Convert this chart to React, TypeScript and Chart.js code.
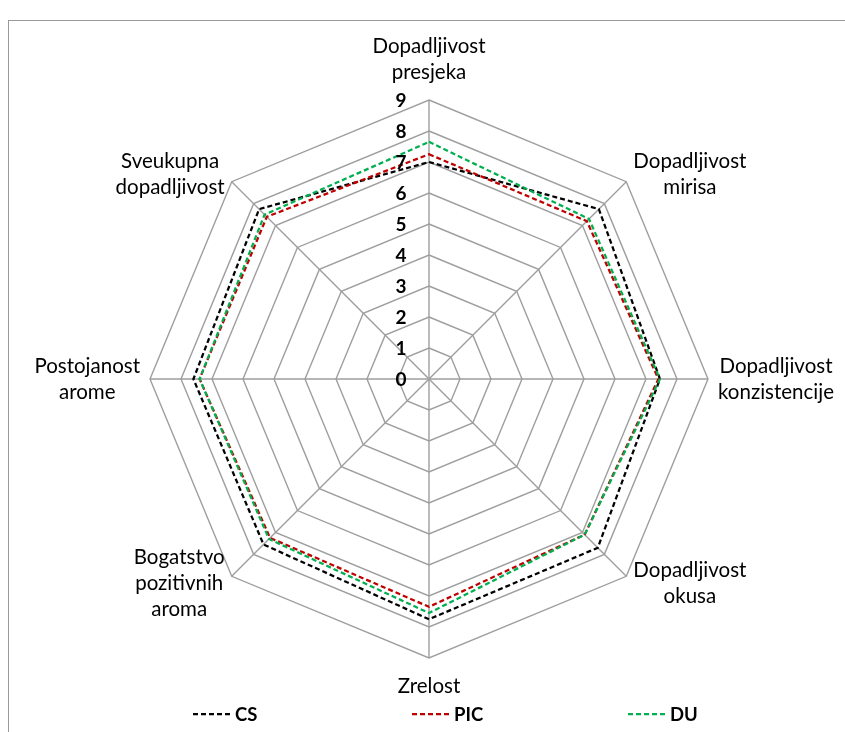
import React, { useEffect, useRef } from "react";
import { Chart, registerables } from "chart.js";

Chart.register(...registerables);

const categories: string[][] = [
  ["Dopadljivost", "presjeka"],
  ["Dopadljivost", "mirisa"],
  ["Dopadljivost", "konzistencije"],
  ["Dopadljivost", "okusa"],
  ["Zrelost"],
  ["Bogatstvo", "pozitivnih", "aroma"],
  ["Postojanost", "arome"],
  ["Sveukupna", "dopadljivost"],
];

const seriesNames = ["CS", "PIC", "DU"];
const csValues = [7.0, 7.75, 7.45, 7.7, 7.75, 7.55, 7.6, 7.75];
const picValues = [7.25, 7.2, 7.4, 7.1, 7.35, 7.25, 7.4, 7.4];
const duValues = [7.65, 7.3, 7.45, 7.1, 7.55, 7.3, 7.4, 7.5];
const tickValues = [0, 1, 2, 3, 4, 5, 6, 7, 8, 9];

const colors = ["#000000", "#C00000", "#00B050"];
const FONT = "Lato";
const LINE_H = 26;

const labelPlugin = {
  id: "customLabels",
  afterDraw(chart: any) {
    const r = chart.scales.r;
    const ctx = chart.ctx;
    ctx.save();
    // tick labels
    ctx.font = `bold 19px ${FONT}`;
    ctx.fillStyle = "#000";
    ctx.textAlign = "center";
    ctx.textBaseline = "middle";
    tickValues.forEach((v) => {
      const p = r.getPointPositionForValue(0, v);
      ctx.fillText(String(v), p.x - 28, p.y + 1);
    });
    // point labels
    ctx.font = `20.5px ${FONT}`;
    const n = categories.length;
    categories.forEach((lines, i) => {
      const pos = r.getPointPosition(i, r.drawingArea + 10);
      const ang = (i * 360) / n;
      const widths = lines.map((l) => ctx.measureText(l).width);
      const bw = Math.max(...widths);
      let cx: number;
      if (ang === 0 || ang === 180) cx = pos.x;
      else if (ang < 180) cx = pos.x + bw / 2;
      else cx = pos.x - bw / 2;
      let y0: number;
      if (ang === 0) y0 = pos.y - 18 - (lines.length - 1) * LINE_H;
      else if (ang === 180) y0 = pos.y + 18;
      else y0 = pos.y - ((lines.length - 1) * LINE_H) / 2;
      lines.forEach((l, k) => {
        ctx.textAlign = "center";
        ctx.textBaseline = "middle";
        ctx.fillText(l, cx, y0 + k * LINE_H);
      });
    });
    // legend
    const legendX = [193, 412, 628];
    const ly = 714;
    seriesNames.forEach((name, i) => {
      const x = legendX[i];
      ctx.strokeStyle = colors[i];
      ctx.lineWidth = 2.25;
      ctx.setLineDash([5, 3]);
      ctx.beginPath();
      ctx.moveTo(x, ly);
      ctx.lineTo(x + 40, ly);
      ctx.stroke();
      ctx.setLineDash([]);
      ctx.font = `bold 18.5px ${FONT}`;
      ctx.fillStyle = "#000";
      ctx.textAlign = "left";
      ctx.textBaseline = "middle";
      ctx.fillText(name, x + 42, ly + 1);
    });
    ctx.restore();
  },
};

export default function App() {
  const ref = useRef<HTMLCanvasElement>(null);
  useEffect(() => {
    if (!ref.current) return;
    const values = [csValues, picValues, duValues];
    const chart = new Chart(ref.current, {
      type: "radar",
      data: {
        labels: categories.map((c) => c.join(" ")),
        datasets: seriesNames.map((name, i) => ({
          label: name,
          data: values[i],
          borderColor: colors[i],
          backgroundColor: "transparent",
          borderWidth: 2.25,
          borderDash: [5, 3],
          pointRadius: 0,
          pointHoverRadius: 0,
          fill: false,
          tension: 0,
          order: 3 - i,
        })),
      },
      options: {
        animation: false,
        responsive: false,
        maintainAspectRatio: false,
        layout: { padding: { left: 150, right: 137, top: 100, bottom: 74 } },
        plugins: { legend: { display: false }, tooltip: { enabled: false } },
        scales: {
          r: {
            min: 0,
            max: 9,
            ticks: { display: false, stepSize: 1 },
            pointLabels: { display: false },
            grid: { color: "#9e9e9e", lineWidth: 1.4 },
            angleLines: { color: "#9e9e9e", lineWidth: 1.4 },
          },
        },
      },
      plugins: [labelPlugin],
    });
    return () => chart.destroy();
  }, []);
  return (
    <div style={{ position: "absolute", left: 0, top: 0, width: 845, height: 732, background: "#fff", overflow: "hidden" }}>
      <div
        style={{
          position: "absolute",
          left: 8,
          top: 20,
          width: 837,
          height: 712,
          borderLeft: "1px solid #999",
          borderTop: "1px solid #999",
          boxSizing: "border-box",
        }}
      />
      <canvas ref={ref} width={845} height={732} style={{ position: "absolute", left: 0, top: 0, width: 845, height: 732 }} />
    </div>
  );
}
